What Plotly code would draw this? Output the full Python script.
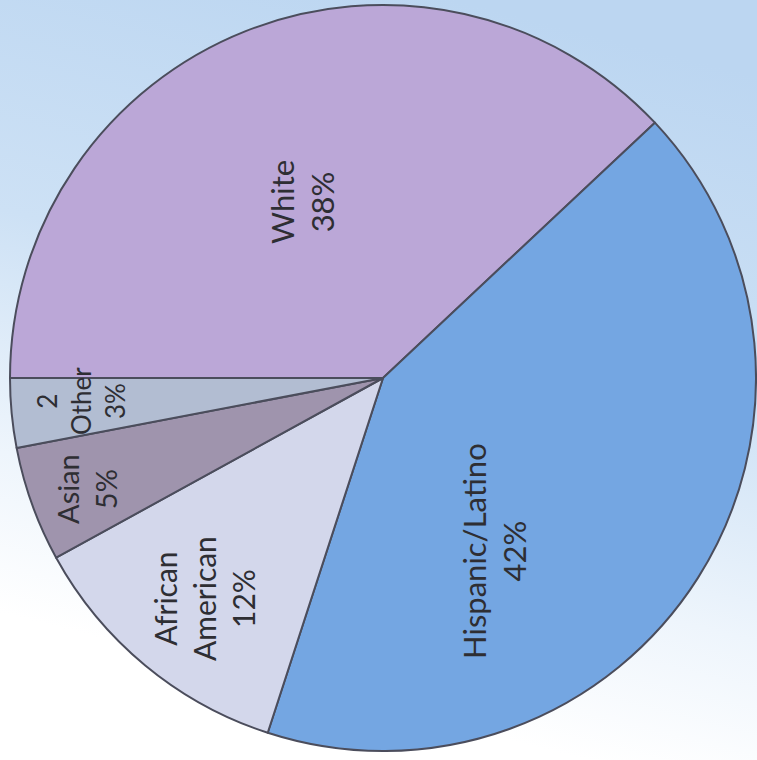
import base64
import plotly.graph_objects as go

# ---- data ----
categories = ["White", "Hispanic/Latino", "African American", "Asian", "Other"]
shares = [38, 42, 12, 5, 3]
label_texts = ["White<br>38%", "Hispanic/Latino<br>42%", "African<br>American<br>12%",
               "Asian<br>5%", "2<br>Other<br>3%"]

# ---- styles ----
colors = ["#bba7d7", "#74a6e2", "#d3d7eb", "#9f94ad", "#b2bdd2"]
W, H = 757, 760
cx, cy, R = 383, 378, 373          # pie centre / radius in pixels
# label block centres (pixels) and font sizes
label_px = [(302, 202), (494, 551), (204, 599), (87, 489), (81, 401)]
label_size = [31, 31, 30, 29, 26]

# gradient background as an SVG image
svg = f'''<svg xmlns="http://www.w3.org/2000/svg" width="{W}" height="{H}" viewBox="0 0 {W} {H}" preserveAspectRatio="none">
<defs><linearGradient id="g" x1="0.6" y1="0" x2="0.35" y2="1">
<stop offset="0" stop-color="#bcd6f1"/><stop offset="0.4" stop-color="#cde1f5"/>
<stop offset="0.7" stop-color="#eef5fc"/><stop offset="0.9" stop-color="#ffffff"/></linearGradient></defs>
<rect width="{W}" height="{H}" fill="url(#g)"/></svg>'''
bg_src = "data:image/svg+xml;base64," + base64.b64encode(svg.encode()).decode()

fig = go.Figure()
fig.add_trace(go.Pie(
    labels=categories, values=shares, sort=False, direction="clockwise",
    rotation=270, textinfo="none", hoverinfo="label+percent",
    marker=dict(colors=colors, line=dict(color="#4b4d5c", width=2)),
    domain=dict(x=[(cx - R) / W, (cx + R) / W], y=[1 - (cy + R) / H, 1 - (cy - R) / H]),
    showlegend=False,
))

annotations = []
for txt, (px, py), fs in zip(label_texts, label_px, label_size):
    annotations.append(dict(
        text=txt, x=px / W, y=1 - py / H, xref="paper", yref="paper",
        xanchor="center", yanchor="middle", showarrow=False, textangle=-90,
        font=dict(family="Lato", size=fs, color="#2e2e33"),
    ))

fig.update_layout(
    width=W, height=H, margin=dict(l=0, r=0, t=0, b=0),
    paper_bgcolor="#ffffff", plot_bgcolor="#ffffff",
    annotations=annotations,
    images=[dict(source=bg_src, xref="paper", yref="paper", x=0, y=1,
                 sizex=1, sizey=1, xanchor="left", yanchor="top",
                 sizing="stretch", layer="below")],
)

fig.write_html("out.html")
